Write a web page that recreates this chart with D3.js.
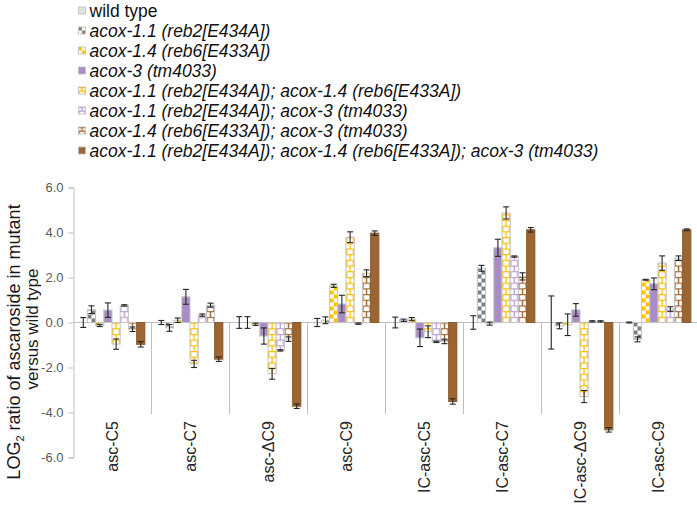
<!DOCTYPE html>
<html>
<head>
<meta charset="utf-8">
<script src="https://cdn.jsdelivr.net/npm/d3@7"></script>
<style>
  body { margin: 0; background: #fff; }
  svg { display: block; font-family: "Liberation Sans", Arial, sans-serif; }
</style>
</head>
<body>
<svg id="chart" width="697" height="510"></svg>
<script>
// categories on the x axis
const categories = ["asc-C5", "asc-C7", "asc-\u0394C9", "asc-C9", "IC-asc-C5", "IC-asc-C7", "IC-asc-\u0394C9", "IC-asc-C9"];

// series (strains)
const seriesNames = [
  "wild type",
  "acox-1.1 (reb2[E434A])",
  "acox-1.4 (reb6[E433A])",
  "acox-3 (tm4033)",
  "acox-1.1 (reb2[E434A]); acox-1.4 (reb6[E433A])",
  "acox-1.1 (reb2[E434A]); acox-3 (tm4033)",
  "acox-1.4 (reb6[E433A]); acox-3 (tm4033)",
  "acox-1.1 (reb2[E434A]); acox-1.4 (reb6[E433A]); acox-3 (tm4033)"
];

// log2 ratios, one array per series, in category order
const wildType   = [0, 0, 0, 0, 0, 0, 0, 0];
const acox11     = [0.57, -0.24, 0.0, 0.1, 0.1, 2.41, -0.15, -0.75];
const acox14     = [-0.13, 0.1, -0.08, 1.63, 0.15, -0.05, -0.1, 1.9];
const acox3      = [0.55, 1.14, -0.6, 0.82, -0.68, 3.32, 0.56, 1.72];
const acox11_14  = [-0.96, -1.84, -2.28, 3.79, -0.41, 4.87, -3.29, 2.64];
const acox11_3   = [0.76, 0.33, -1.24, -0.05, -0.86, 2.93, 0.05, 0.6];
const acox14_3   = [-0.3, 0.77, -0.74, 2.19, -0.84, 2.05, 0.05, 2.86];
const acoxTriple = [-0.97, -1.63, -3.72, 3.97, -3.51, 4.12, -4.77, 4.12];

// error bar half-widths
const errWildType   = [0.22, 0.09, 0.26, 0.18, 0.24, 0.30, 1.18, 0.02];
const errAcox11     = [0.17, 0.15, 0.26, 0.15, 0.05, 0.13, 0.13, 0.11];
const errAcox14     = [0.05, 0.1, 0.05, 0.07, 0.07, 0.07, 0.48, 0.02];
const errAcox3      = [0.32, 0.33, 0.36, 0.39, 0.39, 0.38, 0.28, 0.26];
const errAcox11_14  = [0.23, 0.16, 0.24, 0.24, 0.26, 0.27, 0.27, 0.32];
const errAcox11_3   = [0.03, 0.05, 0.03, 0.03, 0.03, 0.03, 0.03, 0.1];
const errAcox14_3   = [0.1, 0.09, 0.1, 0.15, 0.1, 0.16, 0.03, 0.1];
const errAcoxTriple = [0.12, 0.1, 0.1, 0.1, 0.12, 0.1, 0.1, 0.04];

const yTicks = [-6, -4, -2, 0, 2, 4, 6];

const values = [wildType, acox11, acox14, acox3, acox11_14, acox11_3, acox14_3, acoxTriple];
const errors = [errWildType, errAcox11, errAcox14, errAcox3, errAcox11_14, errAcox11_3, errAcox14_3, errAcoxTriple];

// fill style per series
const styles = [
  { type: "solid", color: "#e2e2e2" },
  { type: "checker", color: "#7f7f7f" },
  { type: "checker", color: "#ffc000" },
  { type: "solid", color: "#aa8cc5" },
  { type: "brick", color: "#ffc000" },
  { type: "brick", color: "#b9a1d8" },
  { type: "brick", color: "#a66c34" },
  { type: "solid", color: "#9c6532" }
];

const svg = d3.select("#chart");
const defs = svg.append("defs");

const y = d3.scaleLinear().domain([-6, 6]).range([457.5, 187.5]);
const x0 = d3.scaleBand().domain(categories).range([73, 697]).padding(0);
const x1 = d3.scaleBand().domain(d3.range(seriesNames.length))
  .range([0, x0.bandwidth()]).paddingInner(0).paddingOuter(0.75);

// builds a pattern whose tiles line up with the given box
function makePattern(id, style, px, py, w, rowH) {
  const p = defs.append("pattern")
    .attr("id", id)
    .attr("patternUnits", "userSpaceOnUse")
    .attr("x", px).attr("y", py)
    .attr("width", w).attr("height", rowH * 2);
  p.append("rect").attr("width", w).attr("height", rowH * 2).attr("fill", "#fff");
  if (style.type === "checker") {
    p.append("rect").attr("x", 0).attr("y", 0).attr("width", w / 2).attr("height", rowH).attr("fill", style.color);
    p.append("rect").attr("x", w / 2).attr("y", rowH).attr("width", w / 2).attr("height", rowH).attr("fill", style.color);
  } else if (style.type === "brick") {
    const path = `M0,0.6H${w} M0,${rowH + 0.6}H${w} M${w / 2},0V${rowH} M0.6,${rowH}V${rowH * 2} M${w - 0.6},${rowH}V${rowH * 2}`;
    p.append("path").attr("d", path).attr("stroke", style.color).attr("stroke-width", 1.4).attr("fill", "none");
  }
  return `url(#${id})`;
}

function fillFor(s, c, bx, by, w, rowH) {
  const st = styles[s];
  if (st.type === "solid") return st.color;
  return makePattern(`p-${s}-${c}`, st, bx, by, w, rowH);
}

// zero line and category dividers
svg.append("line")
  .attr("x1", 73).attr("x2", 697)
  .attr("y1", y(0)).attr("y2", y(0))
  .attr("stroke", "#bfbfbf");

svg.append("g")
  .selectAll("line")
  .data(categories.slice(1).map(c => x0(c)).concat([696.5]))
  .join("line")
  .attr("x1", d => Math.round(d) + 0.5).attr("x2", d => Math.round(d) + 0.5)
  .attr("y1", y(0)).attr("y2", 414)
  .attr("stroke", "#bfbfbf");

// y axis
const yAxis = svg.append("g")
  .attr("transform", "translate(73.5,0)")
  .call(d3.axisLeft(y).tickValues(yTicks).tickFormat(d3.format(".1f")).tickSize(5).tickPadding(5));
yAxis.select(".domain").attr("stroke", "#bfbfbf");
yAxis.selectAll(".tick line").attr("stroke", "#bfbfbf");
yAxis.selectAll(".tick text")
  .attr("fill", "#595959")
  .attr("font-size", 13)
  .attr("font-family", "Liberation Sans, Arial, sans-serif")
  .text(d => d3.format(".1f")(d).replace("\u2212", "-"));

// bars
const bars = [];
values.forEach((arr, s) => {
  arr.forEach((v, c) => {
    bars.push({ s, c, v, e: errors[s][c] });
  });
});

const barG = svg.append("g");
barG.selectAll("rect")
  .data(bars)
  .join("rect")
  .attr("x", d => x0(categories[d.c]) + x1(d.s))
  .attr("y", d => y(Math.max(0, d.v)))
  .attr("width", x1.bandwidth())
  .attr("height", d => Math.abs(y(d.v) - y(0)))
  .attr("fill", d => fillFor(d.s, d.c, x0(categories[d.c]) + x1(d.s), y(0), x1.bandwidth(), styles[d.s].type === "brick" ? 5.7 : 4))
  .attr("stroke", d => d.s === 7 ? "#8a5a2c" : "#c4c4c4")
  .attr("stroke-width", 1);

// error bars
const errG = svg.append("g").attr("stroke", "#262626").attr("stroke-width", 1.1);
const cx = d => x0(categories[d.c]) + x1(d.s) + x1.bandwidth() / 2;
errG.selectAll("line.stem")
  .data(bars)
  .join("line")
  .attr("class", "stem")
  .attr("x1", cx).attr("x2", cx)
  .attr("y1", d => y(d.v + d.e)).attr("y2", d => y(d.v - d.e));
errG.selectAll("line.capTop")
  .data(bars)
  .join("line")
  .attr("class", "capTop")
  .attr("x1", d => cx(d) - 3).attr("x2", d => cx(d) + 3)
  .attr("y1", d => y(d.v + d.e)).attr("y2", d => y(d.v + d.e));
errG.selectAll("line.capBot")
  .data(bars)
  .join("line")
  .attr("class", "capBot")
  .attr("x1", d => cx(d) - 3).attr("x2", d => cx(d) + 3)
  .attr("y1", d => y(d.v - d.e)).attr("y2", d => y(d.v - d.e));

// category labels
svg.append("g")
  .selectAll("text")
  .data(categories)
  .join("text")
  .attr("transform", d => `translate(${x0(d) + x0.bandwidth() / 2 + 6},421) rotate(-90)`)
  .attr("text-anchor", "end")
  .attr("font-size", 16)
  .attr("fill", "#262626")
  .text(d => d);

// y axis title
const t1 = svg.append("text")
  .attr("transform", "translate(20,342) rotate(-90)")
  .attr("text-anchor", "middle")
  .attr("font-size", 18)
  .attr("fill", "#1a1a1a");
t1.append("tspan").text("LOG");
t1.append("tspan").attr("font-size", 11).attr("dy", 4).text("2");
t1.append("tspan").attr("dy", -4).text(" ratio of ascaroside in mutant");

svg.append("text")
  .attr("transform", "translate(38,329) rotate(-90)")
  .attr("text-anchor", "middle")
  .attr("font-size", 17)
  .attr("fill", "#1a1a1a")
  .text("versus wild type");

// legend
const legendY = d => 10.5 + d * 20;
const legend = svg.append("g");
seriesNames.forEach((name, i) => {
  const sx = 78.5, sy = legendY(i) - 3.5;
  const st = styles[i];
  const fill = st.type === "solid" ? st.color : makePattern(`leg-${i}`, st, sx, sy, 7, 3.5);
  legend.append("rect")
    .attr("x", sx).attr("y", sy)
    .attr("width", 7).attr("height", 7)
    .attr("fill", fill)
    .attr("stroke", "#bfbfbf")
    .attr("stroke-width", 0.8);
  legend.append("text")
    .attr("x", 89.5).attr("y", legendY(i))
    .attr("dy", "0.36em")
    .attr("font-size", 17.5)
    .attr("font-style", i === 0 ? "normal" : "italic")
    .attr("fill", "#111")
    .text(name);
});
</script>
</body>
</html>
